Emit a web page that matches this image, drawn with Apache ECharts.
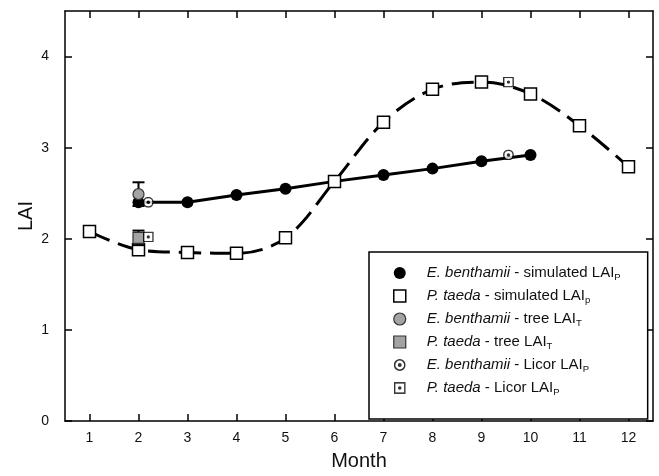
<!DOCTYPE html>
<html>
<head>
<meta charset="utf-8">
<script src="https://cdn.jsdelivr.net/npm/echarts@6/dist/echarts.min.js"></script>
<style>
  html, body { margin: 0; padding: 0; background: #fff; }
  #chart { width: 659px; height: 476px; }
</style>
</head>
<body>
<div id="chart"></div>
<script>
// Monthly leaf area index (LAI) for E. benthamii and P. taeda stands
const months = [1, 2, 3, 4, 5, 6, 7, 8, 9, 10, 11, 12];
const laiTicks = [0, 1, 2, 3, 4];

const ebSimMonths = [2, 3, 4, 5, 6, 7, 8, 9, 10];
const ebSimLAI = [2.40, 2.40, 2.48, 2.55, 2.63, 2.70, 2.77, 2.85, 2.92];

const ptSimMonths = [1, 2, 3, 4, 5, 6, 7, 8, 9, 10, 11, 12];
const ptSimLAI = [2.08, 1.88, 1.85, 1.84, 2.01, 2.63, 3.28, 3.64, 3.72, 3.59, 3.24, 2.79];

const treeMonths = [2];
const ebTreeLAI = [2.49];
const ebTreeSD = [0.13];
const ptTreeLAI = [2.01];
const ptTreeSD = [0.08];

const licorMonths = [2.2, 9.55];
const ebLicorLAI = [2.40, 2.92];
const ptLicorLAI = [2.02, 3.72];

const FONT = 'Liberation Sans, Arial, sans-serif';

const pairs = (xs, ys) => xs.map((x, i) => [x, ys[i]]);
const bars = (xs, ys, sd) => xs.map((x, i) => [x, ys[i] - sd[i], ys[i] + sd[i]]);

function svgIcon(body) {
  const svg = "<svg xmlns='http://www.w3.org/2000/svg' width='20' height='20' viewBox='0 0 20 20'>" + body + "</svg>";
  return 'image://data:image/svg+xml;charset=utf-8,' + encodeURIComponent(svg);
}
const dotCircle = svgIcon("<circle cx='10' cy='10' r='8.6' fill='white' stroke='black' stroke-width='2.6'/><circle cx='10' cy='10' r='3.2' fill='black'/>");
const dotSquare = svgIcon("<rect x='1.4' y='1.4' width='17.2' height='17.2' fill='white' stroke='black' stroke-width='2.6'/><circle cx='10' cy='10' r='3' fill='black'/>");

const names = {
  ebSim: 'E. benthamii - simulated LAIP',
  ptSim: 'P. taeda - simulated LAIp',
  ebTree: 'E. benthamii - tree LAIT',
  ptTree: 'P. taeda - tree LAIT',
  ebLicor: 'E. benthamii - Licor LAIP',
  ptLicor: 'P. taeda - Licor LAIP'
};
const legendText = {};
legendText[names.ebSim] = '{i|E. benthamii}{n| - simulated LAI}{s|P}';
legendText[names.ptSim] = '{i|P. taeda}{n| - simulated LAI}{s|p}';
legendText[names.ebTree] = '{i|E. benthamii}{n| - tree LAI}{s|T}';
legendText[names.ptTree] = '{i|P. taeda}{n| - tree LAI}{s|T}';
legendText[names.ebLicor] = '{i|E. benthamii}{n| - Licor LAI}{s|P}';
legendText[names.ptLicor] = '{i|P. taeda}{n| - Licor LAI}{s|P}';

const GREY = '#a3a3a3';

function errorBar(params, api) {
  const lo = api.coord([api.value(0), api.value(1)]);
  const hi = api.coord([api.value(0), api.value(2)]);
  const half = 6;
  const style = { stroke: '#000', lineWidth: 2 };
  return {
    type: 'group',
    children: [
      { type: 'line', shape: { x1: lo[0], y1: lo[1], x2: hi[0], y2: hi[1] }, style },
      { type: 'line', shape: { x1: hi[0] - half, y1: hi[1], x2: hi[0] + half, y2: hi[1] }, style },
      { type: 'line', shape: { x1: lo[0] - half, y1: lo[1], x2: lo[0] + half, y2: lo[1] }, style }
    ]
  };
}

const axisLineStyle = { color: '#000', width: 1.5 };

const chart = echarts.init(document.getElementById('chart'), null, { renderer: 'canvas' });
chart.setOption({
  animation: false,
  backgroundColor: '#fff',
  textStyle: { fontFamily: FONT },
  grid: { left: 65, right: 6, top: 11, bottom: 54, containLabel: false },
  xAxis: [
    {
      type: 'value', min: 0.5, max: 12.5, position: 'bottom',
      axisLine: { show: true, onZero: false, lineStyle: axisLineStyle },
      axisTick: { show: true, inside: true, length: 7, customValues: months, lineStyle: axisLineStyle },
      axisLabel: { show: true, customValues: months, color: '#111', fontSize: 14, fontFamily: FONT, margin: 10 },
      splitLine: { show: false },
      name: 'Month', nameLocation: 'middle', nameGap: 30,
      nameTextStyle: { fontSize: 20, color: '#111', fontFamily: FONT }
    },
    {
      type: 'value', min: 0.5, max: 12.5, position: 'top',
      axisLine: { show: true, onZero: false, lineStyle: axisLineStyle },
      axisTick: { show: true, inside: true, length: 7, customValues: months, lineStyle: axisLineStyle },
      axisLabel: { show: false },
      splitLine: { show: false }
    }
  ],
  yAxis: [
    {
      type: 'value', min: 0, max: 4.5, position: 'left',
      axisLine: { show: true, onZero: false, lineStyle: axisLineStyle },
      axisTick: { show: true, inside: true, length: 7, customValues: laiTicks, lineStyle: axisLineStyle },
      axisLabel: { show: true, customValues: laiTicks, color: '#111', fontSize: 14, fontFamily: FONT, margin: 16 },
      splitLine: { show: false },
      name: 'LAI', nameLocation: 'middle', nameGap: 29, nameMoveOverlap: false,
      nameTextStyle: { fontSize: 20, color: '#111', fontFamily: FONT }
    },
    {
      type: 'value', min: 0, max: 4.5, position: 'right',
      axisLine: { show: true, onZero: false, lineStyle: axisLineStyle },
      axisTick: { show: true, inside: true, length: 7, customValues: laiTicks, lineStyle: axisLineStyle },
      axisLabel: { show: false },
      splitLine: { show: false }
    }
  ],
  legend: {
    orient: 'vertical', left: 369, top: 252,
    itemWidth: 12, itemHeight: 12, itemGap: 5,
    padding: [12, 27, 22, 24],
    backgroundColor: '#fff', borderColor: '#000', borderWidth: 1.5, borderRadius: 0,
    selectedMode: false,
    textStyle: {
      fontFamily: FONT, color: '#111', fontSize: 15,
      rich: {
        i: { fontStyle: 'italic', fontSize: 15, fontFamily: FONT, color: '#111', padding: [0, 0, 0, 16], lineHeight: 16 },
        n: { fontSize: 15, fontFamily: FONT, color: '#111', lineHeight: 16 },
        s: { fontSize: 9.5, fontFamily: FONT, color: '#111', lineHeight: 8, padding: [8, 0, 0, 0] }
      }
    },
    formatter: (name) => legendText[name],
    data: [
      { name: names.ebSim, icon: 'circle', itemStyle: { color: '#000', borderWidth: 0 } },
      { name: names.ptSim, icon: 'rect', itemStyle: { color: '#fff', borderColor: '#000', borderWidth: 1.5 } },
      { name: names.ebTree, icon: 'circle', itemStyle: { color: GREY, borderColor: '#333', borderWidth: 1.2 } },
      { name: names.ptTree, icon: 'rect', itemStyle: { color: GREY, borderColor: '#333', borderWidth: 1.2 } },
      { name: names.ebLicor, icon: dotCircle },
      { name: names.ptLicor, icon: dotSquare }
    ]
  },
  series: [
    {
      name: names.ebSim, type: 'line', data: pairs(ebSimMonths, ebSimLAI),
      symbol: 'circle', symbolSize: 12,
      lineStyle: { color: '#000', width: 3 },
      itemStyle: { color: '#000', borderWidth: 0 },
      z: 2
    },
    {
      name: names.ptSim, type: 'line', data: pairs(ptSimMonths, ptSimLAI),
      symbol: 'rect', symbolSize: 12, smooth: 0.35,
      lineStyle: { color: '#000', width: 3, type: [22, 9] },
      itemStyle: { color: '#fff', borderColor: '#000', borderWidth: 1.5 },
      z: 3
    },
    {
      name: 'ebTreeSD', type: 'custom', renderItem: errorBar,
      data: bars(treeMonths, ebTreeLAI, ebTreeSD),
      encode: { x: 0, y: [1, 2] }, z: 4, silent: true
    },
    {
      name: 'ptTreeSD', type: 'custom', renderItem: errorBar,
      data: bars(treeMonths, ptTreeLAI, ptTreeSD),
      encode: { x: 0, y: [1, 2] }, z: 4, silent: true
    },
    {
      name: names.ebTree, type: 'scatter', data: pairs(treeMonths, ebTreeLAI),
      symbol: 'circle', symbolSize: 11,
      itemStyle: { color: GREY, borderColor: '#333', borderWidth: 1.2, opacity: 1 },
      z: 5
    },
    {
      name: names.ptTree, type: 'scatter', data: pairs(treeMonths, ptTreeLAI),
      symbol: 'rect', symbolSize: 11,
      itemStyle: { color: GREY, borderColor: '#333', borderWidth: 1.2, opacity: 1 },
      z: 5
    },
    {
      name: names.ebLicor, type: 'scatter', data: pairs(licorMonths, ebLicorLAI),
      symbol: dotCircle, symbolSize: 11, z: 6
    },
    {
      name: names.ptLicor, type: 'scatter', data: pairs(licorMonths, ptLicorLAI),
      symbol: dotSquare, symbolSize: 11, z: 6
    }
  ]
});
</script>
</body>
</html>
